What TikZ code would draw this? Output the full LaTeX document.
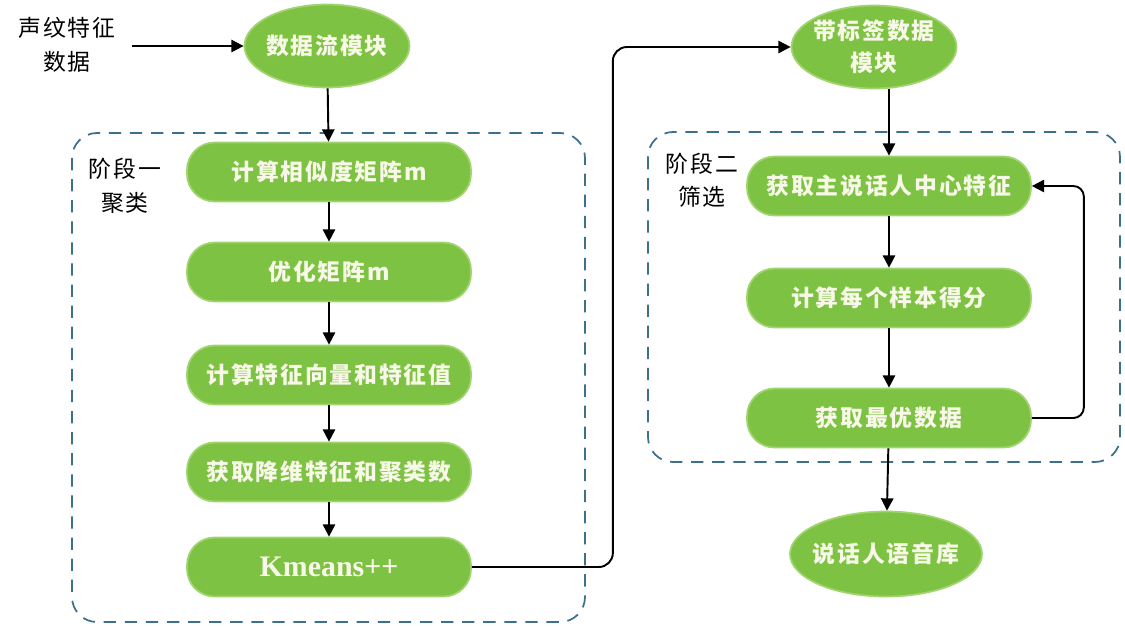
\documentclass[tikz,border=0pt]{standalone}
\usepackage{fontspec}
\newfontfamily\cjk{Noto Sans CJK SC}
\newfontfamily\cjksp[LetterSpace=8]{Noto Sans CJK SC}
\newfontfamily\kmfont{Liberation Serif}
\usetikzlibrary{shapes.geometric,arrows.meta}
\definecolor{boxgreen}{RGB}{125,194,66}
\definecolor{edgegreen}{RGB}{160,212,110}
\definecolor{textcream}{RGB}{248,248,232}
\definecolor{dashblue}{RGB}{60,112,140}
\begin{document}
\begin{tikzpicture}[x=0.02cm,y=-0.02cm,
  box/.style={rectangle, rounded corners=0.55cm, fill=boxgreen, draw=edgegreen, line width=1pt,
    minimum width=5.68cm, minimum height=1.18cm, text=textcream,
    font=\cjksp\bfseries\fontsize{13}{18}\selectfont},
  ell/.style={ellipse, fill=boxgreen, draw=edgegreen, line width=1pt,
    minimum width=3.3cm, minimum height=1.66cm, inner xsep=-6pt, inner ysep=-4pt,
    text=textcream, align=center,
    font=\cjksp\bfseries\fontsize{13}{18}\selectfont},
  stage/.style={draw=dashblue, dash pattern=on 7pt off 5pt, rounded corners=0.5cm, line width=1pt},
  lbl/.style={font=\cjksp\fontsize{13}{19}\selectfont, align=center, text=black},
  arr/.style={-{Triangle[length=7pt,width=7pt]}, line width=1.1pt}]
\useasboundingbox[fill=white] (0,0) rectangle (1125,626);

% stage frames
\draw[stage] (72,133) rectangle (585,622);
\draw[stage] (648,132) rectangle (1120,462);

% texts
\node[lbl] (src) at (67,45) {声纹特征\\数据};
\node[lbl] (s1) at (125,186) {阶段一\\聚类};
\node[lbl] (s2) at (702,180) {阶段二\\筛选};

% left column
\node[ell] (flow) at (327,46) {数据流模块};
\node[box] (b1) at (329,172) {计算相似度矩阵m};
\node[box] (b2) at (329,272) {优化矩阵m};
\node[box] (b3) at (329,375) {计算特征向量和特征值};
\node[box] (b4) at (329,472) {获取降维特征和聚类数};
\node[box, font=\kmfont\bfseries\fontsize{17}{20}\selectfont] (km) at (329,567) {Kmeans++};

% right column
\node[ell] (tag) at (874,47) {带标签数据\\模块};
\node[box] (c1) at (889,186) {获取主说话人中心特征};
\node[box] (c2) at (889,298) {计算每个样本得分};
\node[box] (c3) at (889,418) {获取最优数据};
\node[ell, minimum width=3.84cm, minimum height=1.7cm] (lib) at (886,554) {说话人语音库};

% connectors
\coordinate (srcout) at (132,46);
\draw[arr] (srcout) -- (flow.west);
\draw[arr] (flow) -- (b1);
\draw[arr] (b1) -- (b2);
\draw[arr] (b2) -- (b3);
\draw[arr] (b3) -- (b4);
\draw[arr] (b4) -- (km);
\draw[arr, rounded corners=8pt] (km.east) -- ++(141,0) |- (tag.west);
\draw[arr] (tag.south -| c1.north) -- (c1.north);
\draw[arr] (c1) -- (c2);
\draw[arr] (c2) -- (c3);
\draw[arr] (c3) -- (lib);
\draw[arr, rounded corners=6pt] (c3.east) -- ++(52,0) |- (c1.east);
\end{tikzpicture}
\end{document}
